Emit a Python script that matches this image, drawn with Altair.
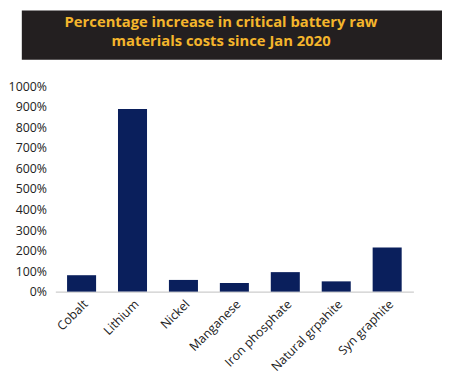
import altair as alt
import pandas as pd

materials = ["Cobalt", "Lithium", "Nickel", "Manganese", "Iron phosphate", "Natural grpahite", "Syn graphite"]
increase_pct = [80, 890, 57, 42, 95, 50, 215]
y_ticks = [0, 100, 200, 300, 400, 500, 600, 700, 800, 900, 1000]
title_line1 = "Percentage increase in critical battery raw"
title_line2 = "materials costs since Jan 2020"

df = pd.DataFrame({"material": materials, "pct": increase_pct})
FONT = "Open Sans"

bars = alt.Chart(df).mark_bar(color="#0a1f5c").encode(
    x=alt.X("material:N", sort=materials, title=None,
            scale=alt.Scale(paddingInner=0.43, paddingOuter=0.23),
            axis=alt.Axis(labelAngle=-45, domainColor="#bfbfbf", ticks=False,
                          labelFont=FONT, labelFontSize=12.5, labelColor="#222222",
                          labelPadding=6)),
    y=alt.Y("pct:Q", title=None,
            scale=alt.Scale(domain=[0, 1000], nice=False),
            axis=alt.Axis(values=y_ticks, labelExpr="datum.value + '%'", grid=False,
                          domain=False, ticks=False, labelFont=FONT, labelFontSize=12.5,
                          labelColor="#222222", labelPadding=9)),
)

title_df = pd.DataFrame({"t": [title_line1]})
banner = alt.Chart(title_df).mark_rect(color="#231f20").encode(
    x=alt.value(-34), x2=alt.value(392), y=alt.value(-77), y2=alt.value(-27)
)
text_style = dict(color="#f4b52c", font=FONT, fontSize=15, fontWeight="bold",
                  align="center", baseline="middle")
title1 = alt.Chart(pd.DataFrame({"t": [title_line1]})).mark_text(**text_style).encode(
    text="t:N", x=alt.value(168), y=alt.value(-65))
title2 = alt.Chart(pd.DataFrame({"t": [title_line2]})).mark_text(**text_style).encode(
    text="t:N", x=alt.value(168), y=alt.value(-46))

chart = alt.layer(banner, bars, title1, title2).properties(
    width=363, height=208, padding=0
).configure_view(stroke=None)

chart.save("out.html", embed_options={"renderer": "svg", "actions": False})
